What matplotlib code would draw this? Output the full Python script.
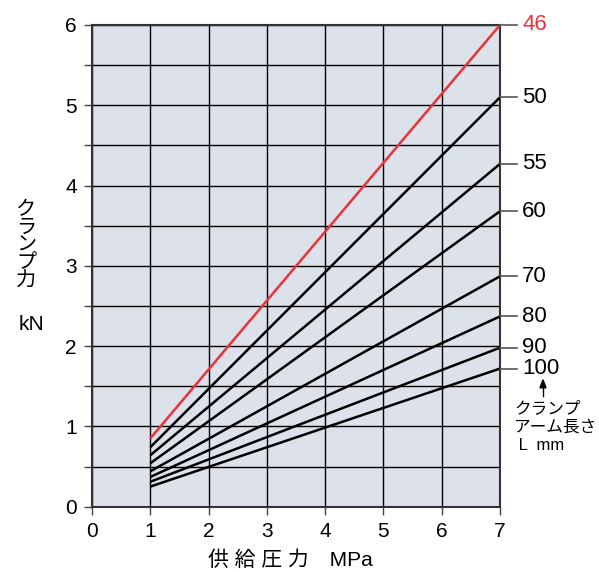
import numpy as np
import matplotlib.pyplot as plt

plt.rcParams['font.family'] = ['Liberation Sans', 'Noto Sans CJK JP']

# supply pressure range (MPa)
pressure = [1, 7]
# clamp arm length L (mm) and clamp force (kN) at 1 MPa and 7 MPa
arm_lengths = ['46', '50', '55', '60', '70', '80', '90', '100']
force_at_1 = [0.85, 0.74, 0.64, 0.54, 0.44, 0.37, 0.31, 0.25]
force_at_7 = [6.0, 5.10, 4.27, 3.68, 2.87, 2.37, 1.98, 1.72]
line_colors = ['#e8333a'] + ['black'] * 7

fig = plt.figure(figsize=(5.99, 5.72), dpi=100)
ax = fig.add_axes([0.1536, 0.1142, 0.6811, 0.8421])
ax.set_facecolor('#dde1ea')

for name, f1, f7, c in zip(arm_lengths, force_at_1, force_at_7, line_colors):
    ax.plot(pressure, [f1, f7], color=c, lw=1.8, solid_capstyle='butt', zorder=3)
    # leader line and label on the right
    ax.annotate(name, xy=(7, f7), xytext=(16, f7),
                textcoords=('offset points', 'data'),
                color=c, fontsize=16, va='center', ha='left',
                annotation_clip=False)
    ax.plot([7, 7.3], [f7, f7], color='#555555', lw=1.2, clip_on=False, zorder=3)

ax.set_xlim(0, 7)
ax.set_ylim(0, 6)
ax.set_xticks(np.arange(0, 8, 1))
ax.set_yticks(np.arange(0, 7, 1))
ax.set_yticks(np.arange(0.5, 6, 1), minor=True)
ax.grid(True, which='both', color='black', lw=1.0, zorder=1)
ax.set_axisbelow(True)
ax.tick_params(which='both', direction='out', length=6, width=1.0,
               color='#444444', labelsize=15, pad=5)
ax.tick_params(axis='x', which='minor', length=0)
for s in ax.spines.values():
    s.set_linewidth(1.5)
    s.set_color('#333333')

fig.text(0.484, 0.020, '供 給 圧 力　MPa', ha='center', va='center', fontsize=15)
fig.text(0.044, 0.650, 'ク\nラ\nン\nプ\n力', ha='center', va='top',
         fontsize=14.5, linespacing=0.92)
fig.text(0.053, 0.432, 'kN', ha='center', va='center', fontsize=15)

# small arrow pointing at the "100" label
fig.add_artist(plt.Line2D([0.9065, 0.9065], [0.307, 0.328], color='black', lw=1.0,
                          transform=fig.transFigure))
fig.add_artist(plt.Polygon([[0.9015, 0.322], [0.9115, 0.322], [0.9065, 0.336]],
                           closed=True, color='black', transform=fig.transFigure))
fig.text(0.858, 0.298, 'クランプ\nアーム長さ\n L  mm', ha='left', va='top',
         fontsize=12, linespacing=1.25)

fig.savefig('out.png', dpi=100)
